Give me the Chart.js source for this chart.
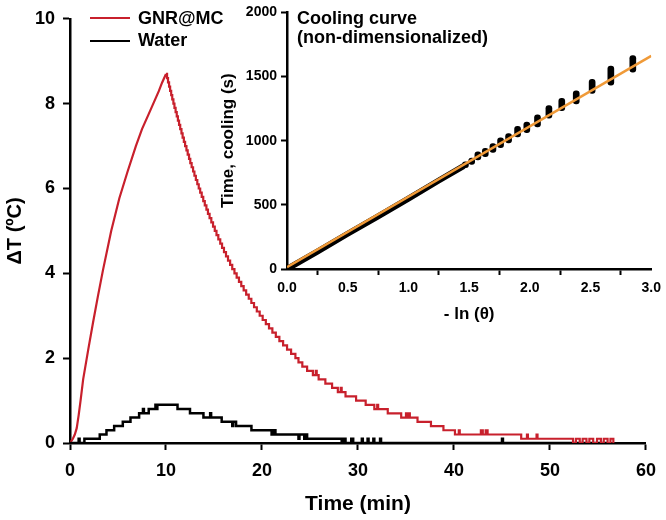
<!DOCTYPE html>
<html>
<head>
<meta charset="utf-8">
<title>Heating / cooling curve</title>
<script src="https://cdn.jsdelivr.net/npm/chart.js@4.4.1/dist/chart.umd.min.js"></script>
<style>
  body { margin: 0; background: #fff; }
  #wrap { position: relative; width: 666px; height: 520px; font-family: "Liberation Sans", Arial, sans-serif; color: #000; }
  #mainChart, #insetChart { position: absolute; top: 0; }
  #mainChart { left: 0; }
  #insetChart { left: 214px; }
  .legend-item { position: absolute; left: 90px; height: 22px; display: flex; align-items: center; font-weight: bold; font-size: 18px; }
  .legend-line { width: 40px; height: 0; margin-right: 8px; }
  #insetNote { position: absolute; left: 297px; top: 9px; font-weight: bold; font-size: 18px; line-height: 19px; }
</style>
</head>
<body>
<div id="wrap">
  <canvas id="mainChart" width="666" height="520"></canvas>
  <canvas id="insetChart" width="452" height="326"></canvas>
  <div id="legend"></div>
  <div id="insetNote">Cooling curve<br>(non-dimensionalized)</div>
</div>
<script>
// --- DATA ---

// GNR@MC heating, laser on (min, degC)
const riseTime = [0, 0.3, 0.5, 0.7, 0.9, 1.1, 1.37, 1.9, 2.4, 2.9, 3.43, 4.29, 5.14, 6.0, 6.86, 7.5, 8.23, 9.26, 9.6, 10.0];
const riseTemp = [0, 0.1, 0.2, 0.35, 0.65, 1.0, 1.5, 2.2, 2.84, 3.45, 4.07, 5.0, 5.77, 6.4, 7.0, 7.4, 7.77, 8.3, 8.5, 8.7];

// GNR@MC cooling, laser off: time at which the reading steps to the next level
const coolTime = [10.0, 10.11, 10.21, 10.32, 10.43, 10.54, 10.65, 10.77, 10.88, 11.00, 11.12,
  11.24, 11.36, 11.48, 11.61, 11.73, 11.86, 11.99, 12.13, 12.26, 12.40,
  12.53, 12.67, 12.82, 12.96, 13.11, 13.26, 13.41, 13.56, 13.72, 13.88,
  14.04, 14.21, 14.37, 14.54, 14.72, 14.90, 15.08, 15.26, 15.45, 15.65,
  15.84, 16.04, 16.25, 16.46, 16.68, 16.90, 17.13, 17.36, 17.60, 17.84,
  18.09, 18.35, 18.62, 18.89, 19.17, 19.46, 19.76, 20.07, 20.40, 20.73,
  21.08, 21.44, 21.81, 22.20, 22.61, 23.03, 23.48, 23.8, 24.2, 24.7,
  25.3, 25.6, 25.7, 25.9, 26.6, 27.3, 27.9, 28.2, 28.3, 28.7,
  29.8, 30.8, 31.7, 32.0, 32.1, 33.1, 34.5, 35.0, 35.1, 35.3,
  35.4, 36.2, 37.6, 38.9, 40.1, 40.5, 40.6, 42.8, 43.0, 43.3,
  43.5, 47.0, 47.6, 47.7, 48.6, 48.7, 52.4, 52.7, 53.1, 53.4,
  53.8, 54.1, 54.5, 54.9, 55.3, 55.6, 56.0, 56.3, 56.6];
const coolTemp = [8.7, 8.6, 8.5, 8.4, 8.3, 8.2, 8.1, 8.0, 7.9, 7.8, 7.7,
  7.6, 7.5, 7.4, 7.3, 7.2, 7.1, 7.0, 6.9, 6.8, 6.7,
  6.6, 6.5, 6.4, 6.3, 6.2, 6.1, 6.0, 5.9, 5.8, 5.7,
  5.6, 5.5, 5.4, 5.3, 5.2, 5.1, 5.0, 4.9, 4.8, 4.7,
  4.6, 4.5, 4.4, 4.3, 4.2, 4.1, 4.0, 3.9, 3.8, 3.7,
  3.6, 3.5, 3.4, 3.3, 3.2, 3.1, 3.0, 2.9, 2.8, 2.7,
  2.6, 2.5, 2.4, 2.3, 2.2, 2.1, 2.0, 1.9, 1.8, 1.7,
  1.6, 1.7, 1.6, 1.5, 1.4, 1.3, 1.2, 1.3, 1.2, 1.1,
  1.0, 0.9, 0.8, 0.9, 0.8, 0.7, 0.6, 0.7, 0.6, 0.7,
  0.6, 0.5, 0.4, 0.3, 0.2, 0.3, 0.2, 0.3, 0.2, 0.3,
  0.2, 0.1, 0.2, 0.1, 0.2, 0.1, 0.0, 0.1, 0.0, 0.1,
  0.0, 0.1, 0.0, 0.1, 0.0, 0.1, 0.0, 0.1, 0.0];

// Water control (stepped readings)
const waterTime = [0, 0.9, 1.0, 1.5, 3.1, 3.8, 4.6, 5.5, 6.3, 7.2, 7.6, 7.7, 8.2, 8.9, 9.0, 9.1,
  11.2, 12.5, 13.9, 14.6, 14.7, 15.8, 16.9, 17.0, 17.3, 18.9, 21.0, 21.2, 21.4,
  23.8, 23.9, 24.4, 24.5, 24.7, 28.3, 28.5, 28.7, 29.3, 29.5, 30.4, 30.5,
  31.0, 31.1, 31.6, 31.7, 32.3, 32.4, 45.0, 45.1, 56.0];
const waterTemp = [0, 0.1, 0, 0.1, 0.2, 0.3, 0.4, 0.5, 0.6, 0.7, 0.8, 0.7, 0.8, 0.9, 0.8, 0.9,
  0.8, 0.7, 0.6, 0.7, 0.6, 0.5, 0.4, 0.5, 0.4, 0.3, 0.2, 0.3, 0.2,
  0.1, 0.2, 0.1, 0.2, 0.1, 0, 0.1, 0, 0.1, 0, 0.1, 0,
  0.1, 0, 0.1, 0, 0.1, 0, 0.1, 0, 0];

// Inset: -ln(theta) vs cooling time (s)
const bandLnTheta = [0, 0.25, 0.5, 0.75, 1.0, 1.25, 1.45];
const bandTime = [0, 135, 275, 410, 548, 690, 800];
const clusterLnTheta = [1.470, 1.521, 1.572, 1.633, 1.696, 1.759, 1.825, 1.899, 1.975, 2.063, 2.157, 2.263, 2.382, 2.513, 2.667, 2.848];
const clusterTimeMin = [790, 815, 850, 876, 909, 945, 983, 1030, 1063, 1107, 1176, 1235, 1286, 1368, 1432, 1535];
const clusterTimeMax = [835, 865, 914, 940, 978, 1022, 1055, 1112, 1145, 1201, 1274, 1330, 1389, 1479, 1582, 1663];
const fitLnTheta = [0, 3.0];
const fitTime = [15, 1661];

// Series names and colours
const SERIES = [
    { name: 'GNR@MC', color: '#c8202c', width: 2.2 },
    { name: 'Water', color: '#000000', width: 2.5 }
];
const FIT_COLOR = '#f09a38';
const FONT = '"Liberation Sans", Arial, sans-serif';

// --- HELPERS ---

const toPoints = (xs, ys) => xs.map((x, i) => ({ x: x, y: ys[i] }));

// axis look shared by both charts
const axisStyle = (tickSize, tickLen) => ({
    type: 'linear',
    border: { display: true, color: '#000', width: 2.5 },
    grid: { display: true, drawOnChartArea: false, drawTicks: true, tickLength: tickLen, tickColor: '#000', tickWidth: 2 },
    ticks: { color: '#000', font: { family: FONT, size: tickSize, weight: 'bold' } }
});

Chart.defaults.font.family = FONT;
Chart.defaults.color = '#000';

// --- MAIN CHART ---
const mainX = axisStyle(18, 7);
mainX.min = 0; mainX.max = 60;
mainX.ticks.stepSize = 10;
mainX.ticks.padding = 10;
mainX.title = { display: true, text: 'Time (min)', color: '#000', font: { size: 21, weight: 'bold' }, padding: { top: 0, bottom: 3 } };
mainX.afterFit = (scale) => { scale.height = 77; };

const mainY = axisStyle(18, 7);
mainY.min = 0; mainY.max = 10;
mainY.ticks.stepSize = 2;
mainY.ticks.padding = 8;
mainY.title = { display: true, text: 'ΔT (ºC)', color: '#000', font: { size: 20, weight: 'bold' }, padding: { top: 3, bottom: 0 } };
mainY.afterFit = (scale) => { scale.width = 70; };

// stepped: 'before' keeps each reading until the next time stamp
const mainChart = new Chart(document.getElementById('mainChart'), {
    type: 'line',
    data: {
        datasets: [
            { label: SERIES[0].name, data: toPoints(coolTime, coolTemp), borderColor: SERIES[0].color, borderWidth: SERIES[0].width, stepped: 'before', pointRadius: 0 },
            { label: SERIES[1].name, data: toPoints(waterTime, waterTemp), borderColor: SERIES[1].color, borderWidth: SERIES[1].width, stepped: 'before', pointRadius: 0 },
            { label: 'GNR@MC heating', data: toPoints(riseTime, riseTemp), borderColor: SERIES[0].color, borderWidth: SERIES[0].width, pointRadius: 0 }
        ]
    },
    options: {
        responsive: false,
        animation: false,
        events: [],
        layout: { padding: { top: 10, right: 14, left: 0, bottom: 0 } },
        scales: { x: mainX, y: mainY },
        plugins: { legend: { display: false }, tooltip: { enabled: false } }
    }
});

// --- INSET CHART ---
const insetX = axisStyle(14, 6);
insetX.min = 0; insetX.max = 3;
insetX.offset = false;
insetX.ticks.stepSize = 0.5;
insetX.ticks.padding = 5;
insetX.ticks.callback = (v) => v.toFixed(1);
insetX.title = { display: true, text: '- ln (θ)', color: '#000', font: { size: 17, weight: 'bold' }, padding: { top: 0, bottom: 1 } };
insetX.afterFit = (scale) => { scale.height = 57; };

const insetY = axisStyle(14, 6);
insetY.min = 0; insetY.max = 2000;
insetY.ticks.stepSize = 500;
insetY.ticks.padding = 4;
insetY.ticks.callback = (v) => String(v);
insetY.title = { display: true, text: 'Time, cooling (s)', color: '#000', font: { size: 17, weight: 'bold' }, padding: { top: 4, bottom: 0 } };
insetY.afterFit = (scale) => { scale.width = 73; };

const clusters = clusterLnTheta.map((x, i) => ({ x: x, y: [clusterTimeMin[i], clusterTimeMax[i]] }));

const insetChart = new Chart(document.getElementById('insetChart'), {
    type: 'line',
    data: {
        datasets: [
            { type: 'line', label: 'Linear fit', data: toPoints(fitLnTheta, fitTime), borderColor: FIT_COLOR, borderWidth: 2.5, pointRadius: 0, order: 0 },
            { type: 'line', label: 'Cooling data', data: toPoints(bandLnTheta, bandTime), borderColor: '#000', borderWidth: 6, borderCapStyle: 'round', borderJoinStyle: 'round', pointRadius: 0, order: 1 },
            { type: 'bar', label: 'Cooling data (steps)', data: clusters, backgroundColor: '#000', barThickness: 6, borderRadius: 3, borderSkipped: false, grouped: false, order: 2 }
        ]
    },
    options: {
        responsive: false,
        animation: false,
        events: [],
        layout: { padding: { top: 9, right: 14, left: 0, bottom: 0 } },
        scales: { x: insetX, y: insetY },
        plugins: { legend: { display: false }, tooltip: { enabled: false } }
    }
});

// --- LEGEND (html, built from the main chart datasets) ---
const buildLegend = (chart) => {
    const box = document.getElementById('legend');
    const centers = [18, 40.7];
    chart.data.datasets.slice(0, 2).forEach((ds, i) => {
        const item = document.createElement('div');
        item.className = 'legend-item';
        item.style.top = (centers[i] - 11) + 'px';
        const line = document.createElement('span');
        line.className = 'legend-line';
        line.style.borderTop = ds.borderWidth + 'px solid ' + ds.borderColor;
        item.appendChild(line);
        item.appendChild(document.createTextNode(ds.label));
        box.appendChild(item);
    });
};
buildLegend(mainChart);
</script>
</body>
</html>
